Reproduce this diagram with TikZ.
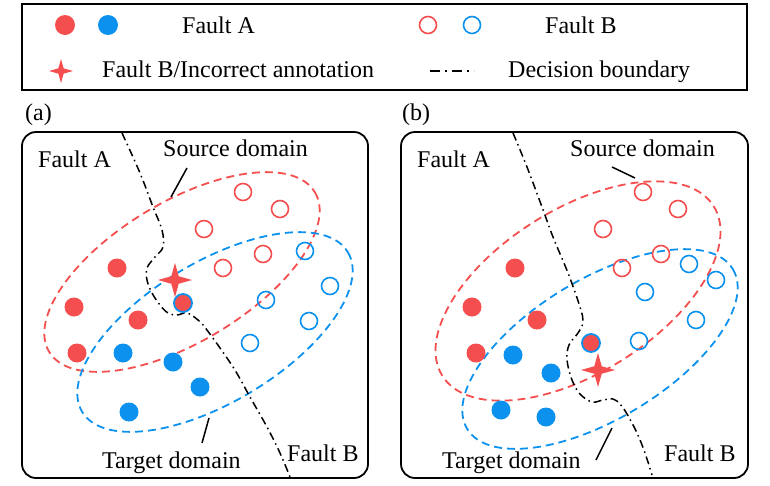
\documentclass[tikz,border=0pt]{standalone}
\usepackage{fontspec}
\setmainfont{Liberation Serif}
\usetikzlibrary{positioning}
\definecolor{faultred}{RGB}{245,78,78}
\definecolor{faultblue}{RGB}{12,146,238}

\tikzset{
  redfill/.style={circle,fill=faultred,inner sep=0pt,minimum size=19pt},
  bluefill/.style={circle,fill=faultblue,inner sep=0pt,minimum size=19pt},
  redring/.style={circle,draw=faultred,line width=1.6pt,inner sep=0pt,minimum size=17pt},
  bluering/.style={circle,draw=faultblue,line width=1.6pt,inner sep=0pt,minimum size=17pt},
  mixdot/.style={circle,fill=faultred,draw=faultblue,line width=1.8pt,inner sep=0pt,minimum size=18pt},
  boundary/.style={line width=1.5pt,dash pattern=on 8pt off 4pt on 1.5pt off 4pt},
  domainline/.style={line width=1.8pt,dash pattern=on 8pt off 5pt},
  leader/.style={line width=1.5pt},
  panelbox/.style={draw,line width=1.8pt,rounded corners=14pt},
  bigtext/.style={font=\fontsize{24}{28}\selectfont,inner sep=0pt,anchor=base west},
  pics/wrongstar/.style={code={
    \fill[faultred] (#1,0) -- (0.22*#1,0.22*#1) -- (0,#1) -- (-0.22*#1,0.22*#1)
      -- (-#1,0) -- (-0.22*#1,-0.22*#1) -- (0,-#1) -- (0.22*#1,-0.22*#1) -- cycle;}}
}

\begin{document}
\begin{tikzpicture}[x=1pt,y=-1pt]
\useasboundingbox (0,0) rectangle (770,485);

% legend
\draw[line width=1.8pt] (22,4) rectangle (747,90);
\node[redfill,minimum size=20pt] (legA1) at (65,25) {};
\node[bluefill,minimum size=20pt] (legA2) at (108,25) {};
\node[bigtext] (legAtxt) at (182,33) {Fault A};
\node[redring] (legB1) at (428,25) {};
\node[bluering] (legB2) at (472,25) {};
\node[bigtext] (legBtxt) at (545,33) {Fault B};
\pic at (61,71) {wrongstar=12};
\node[bigtext] (legStxt) at (102,77) {Fault B/Incorrect annotation};
\coordinate (legDa) at (430,71);
\coordinate (legDb) at (474,71);
\draw[boundary,dash pattern=on 10pt off 5pt on 2pt off 5pt] (legDa) -- (legDb);
\node[bigtext] (legDtxt) at (508,77) {Decision boundary};

% panel (a)
\node[bigtext] (tagA) at (25,120) {(a)};
\draw[panelbox] (22,132) rectangle (368,478);
\draw[faultred,domainline,rotate around={31:(182,272)}] (182,272) ellipse [x radius=155,y radius=70];
\draw[faultblue,domainline,rotate around={31:(215,332)}] (215,332) ellipse [x radius=155,y radius=70];
\node[bigtext] (faultAa) at (38,167) {Fault A};
\node[bigtext] (srcAa) at (163,156) {Source domain};
\node[bigtext] (faultBa) at (287,461) {Fault B};
\node[bigtext] (tgtAa) at (102,468) {Target domain};
\coordinate (srcAtip) at (187,168);
\coordinate (srcAend) at (171,197);
\draw[leader] (srcAtip) -- (srcAend);
\coordinate (tgtAtip) at (202,443);
\coordinate (tgtAend) at (209,418);
\draw[leader] (tgtAtip) -- (tgtAend);
\draw[boundary] plot[smooth,tension=0.6] coordinates {(122,133) (140,173) (153,207) (162,230)
  (163,247) (155,257) (147,268) (147,280) (152,293) (160,305) (168,313) (177,315) (187,313)
  (198,320) (207,330) (233,367) (250,397) (267,427) (280,453) (290,477)};
\node[redfill] (ra1) at (117,268) {};
\node[redfill] (ra2) at (74,307) {};
\node[redfill] (ra3) at (138,320) {};
\node[redfill] (ra4) at (77,353) {};
\node[bluefill] (ba1) at (123,353) {};
\node[bluefill] (ba2) at (173,362) {};
\node[bluefill] (ba3) at (200,387) {};
\node[bluefill] (ba4) at (129,412) {};
\node[mixdot] (ma1) at (183,303) {};
\pic at (175,280) {wrongstar=17};
\node[redring] (roa1) at (243,192) {};
\node[redring] (roa2) at (280,209) {};
\node[redring] (roa3) at (204,229) {};
\node[redring] (roa4) at (263,254) {};
\node[redring] (roa5) at (223,268) {};
\node[bluering] (boa1) at (305,251) {};
\node[bluering] (boa2) at (330,286) {};
\node[bluering] (boa3) at (266,300) {};
\node[bluering] (boa4) at (309,321) {};
\node[bluering] (boa5) at (250,343) {};

% panel (b)
\node[bigtext] (tagB) at (402,120) {(b)};
\draw[panelbox] (401,132) rectangle (748,478);
\draw[faultred,domainline,rotate around={32:(578,291)}] (578,291) ellipse [x radius=160,y radius=82];
\draw[faultblue,domainline,rotate around={31:(600,349)}] (600,349) ellipse [x radius=155,y radius=70];
\node[bigtext] (faultAb) at (417,167) {Fault A};
\node[bigtext] (srcAb) at (570,156) {Source domain};
\node[bigtext] (faultBb) at (664,461) {Fault B};
\node[bigtext] (tgtAb) at (442,468) {Target domain};
\coordinate (srcBtip) at (612,167);
\coordinate (srcBend) at (635,178);
\draw[leader] (srcBtip) -- (srcBend);
\coordinate (tgtBtip) at (596,460);
\coordinate (tgtBend) at (612,428);
\draw[leader] (tgtBtip) -- (tgtBend);
\draw[boundary] plot[smooth,tension=0.6] coordinates {(513,133) (527,167) (542,207) (553,237)
  (568,273) (580,307) (583,322) (578,333) (569,345) (567,360) (572,380) (580,394) (592,402)
  (603,400) (613,399) (620,404) (627,414) (637,433) (645,453) (652,475)};
\node[redfill] (rb1) at (515,268) {};
\node[redfill] (rb2) at (472,307) {};
\node[redfill] (rb3) at (537,320) {};
\node[redfill] (rb4) at (476,353) {};
\node[bluefill] (bb1) at (513,355) {};
\node[bluefill] (bb2) at (551,373) {};
\node[bluefill] (bb3) at (501,410) {};
\node[bluefill] (bb4) at (546,417) {};
\node[mixdot] (mb1) at (591,343) {};
\pic at (598,370) {wrongstar=17};
\node[redring] (rob1) at (643,192) {};
\node[redring] (rob2) at (678,209) {};
\node[redring] (rob3) at (603,229) {};
\node[redring] (rob4) at (661,254) {};
\node[redring] (rob5) at (622,268) {};
\node[bluering] (bob1) at (689,264) {};
\node[bluering] (bob2) at (716,280) {};
\node[bluering] (bob3) at (645,292) {};
\node[bluering] (bob4) at (696,320) {};
\node[bluering] (bob5) at (639,341) {};
\end{tikzpicture}
\end{document}
